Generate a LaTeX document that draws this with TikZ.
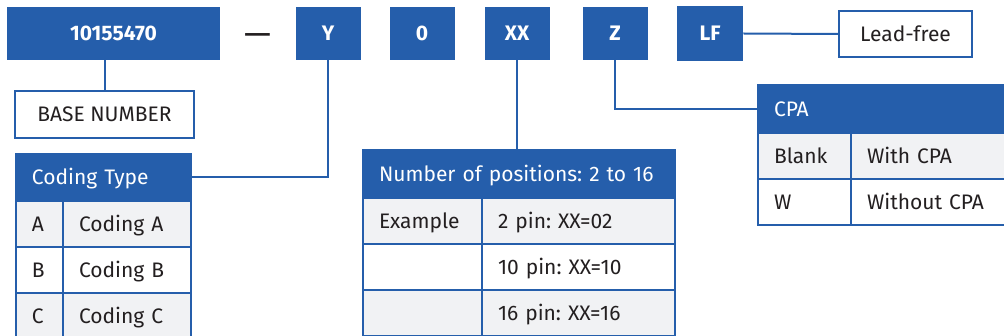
\documentclass[11pt,tikz,border=0pt]{standalone}
\usepackage{fontspec}
\setmainfont{Fira Sans}
\usepackage{tikz}
\usetikzlibrary{positioning}
\definecolor{codeblue}{RGB}{37,94,171}
\definecolor{rowgrey}{RGB}{241,242,244}
\definecolor{inkgrey}{RGB}{35,31,32}
\tikzstyle{link} = [draw=codeblue,line width=1pt]
\tikzstyle{partbox} = [fill=codeblue,text=white,font=\fontsize{10.5}{12.6}\selectfont\bfseries,minimum height=26.5pt,minimum width=32.5pt,inner sep=0pt]
\tikzstyle{notebox} = [draw=codeblue,line width=1pt,fill=white,text=inkgrey,minimum height=23.5pt,inner sep=0pt]
\tikzstyle{headcell} = [draw=codeblue,fill=codeblue,line width=1pt,text=white,outer sep=0pt,inner xsep=8pt,inner ysep=0pt,align=left,text height=9pt,text depth=1.7pt,anchor=north west]
\tikzstyle{cell} = [draw=codeblue,line width=1pt,text=inkgrey,outer sep=0pt,inner xsep=8pt,inner ysep=0pt,minimum height=23pt,align=left,text height=9pt,text depth=1.7pt]

\begin{document}
\frenchspacing
\begin{tikzpicture}[x=0.5pt,y=-0.5pt,every node/.append style={font=\fontsize{10.5}{12.6}\selectfont}]
	\useasboundingbox (0,0) rectangle (1004,336);

	%Part number
	\node [partbox,minimum width=106.5pt] (base) at (113.5,33.5) {10155470};
	\node [text=inkgrey,font=\fontsize{17}{20}\selectfont] (dash) at (258,40) {—};
	\node [partbox] (ybox) at (328,33.5) {Y};
	\node [partbox] (zerobox) at (422,33.5) {0};
	\node [partbox] (xxbox) at (517,33.5) {XX};
	\node [partbox] (zbox) at (615,33.5) {Z};
	\node [partbox,minimum width=33pt,minimum height=27.5pt] (lfbox) at (710,33.5) {LF};

	%Notes
	\node [notebox,minimum width=89.5pt] (basenum) at (104.5,114.5) {BASE NUMBER};
	\node [notebox,minimum width=66.5pt,minimum height=23pt] (leadfree) at (905.5,34) {Lead-free};

	%Coding type table
	\node [headcell,text width=71.5pt,minimum height=23.5pt] (codhead) at (16,154) {Coding Type};
	\node [cell,fill=rowgrey,text width=7.5pt,below right=0pt of codhead.south west] (codA) {A};
	\node [cell,fill=rowgrey,text width=48pt,right=0pt of codA] (codAtxt) {Coding A};
	\node [cell,fill=white,text width=7.5pt,below=0pt of codA] (codB) {B};
	\node [cell,fill=white,text width=48pt,right=0pt of codB] (codBtxt) {Coding B};
	\node [cell,fill=rowgrey,text width=7.5pt,below=0pt of codB] (codC) {C};
	\node [cell,fill=rowgrey,text width=48pt,right=0pt of codC] (codCtxt) {Coding C};

	%Positions table
	\node [headcell,text width=140pt,minimum height=24pt] (poshead) at (363,150) {Number of positions: 2 to 16};
	\node [cell,fill=rowgrey,text width=43.5pt,below right=0pt of poshead.south west] (posA) {Example};
	\node [cell,fill=rowgrey,text width=80.5pt,right=0pt of posA] (posAtxt) {2 pin: XX=02};
	\node [cell,fill=white,text width=43.5pt,below=0pt of posA] (posB) {};
	\node [cell,fill=white,text width=80.5pt,right=0pt of posB] (posBtxt) {10 pin: XX=10};
	\node [cell,fill=rowgrey,text width=43.5pt,below=0pt of posB] (posC) {};
	\node [cell,fill=rowgrey,text width=80.5pt,right=0pt of posC] (posCtxt) {16 pin: XX=16};

	%CPA table
	\node [headcell,text width=110pt,minimum height=24pt] (cpahead) at (758,85) {CPA};
	\node [cell,fill=rowgrey,text width=30.5pt,below right=0pt of cpahead.south west] (cpaA) {Blank};
	\node [cell,fill=rowgrey,text width=63.5pt,right=0pt of cpaA] (cpaAtxt) {With CPA};
	\node [cell,fill=white,text width=30.5pt,below=0pt of cpaA] (cpaB) {W};
	\node [cell,fill=white,text width=63.5pt,right=0pt of cpaB] (cpaBtxt) {Without CPA};

	%Lines
	\draw[link] (basenum.north) -- (basenum.north |- base.south);
	\draw[link] (ybox.south) |- (codhead.east);
	\draw[link] (xxbox.south) -- (xxbox.south |- poshead.north);
	\draw[link] (zbox.south) |- (cpahead.west);
	\draw[link] (lfbox.east) -- (leadfree.west);
\end{tikzpicture}
\end{document}
